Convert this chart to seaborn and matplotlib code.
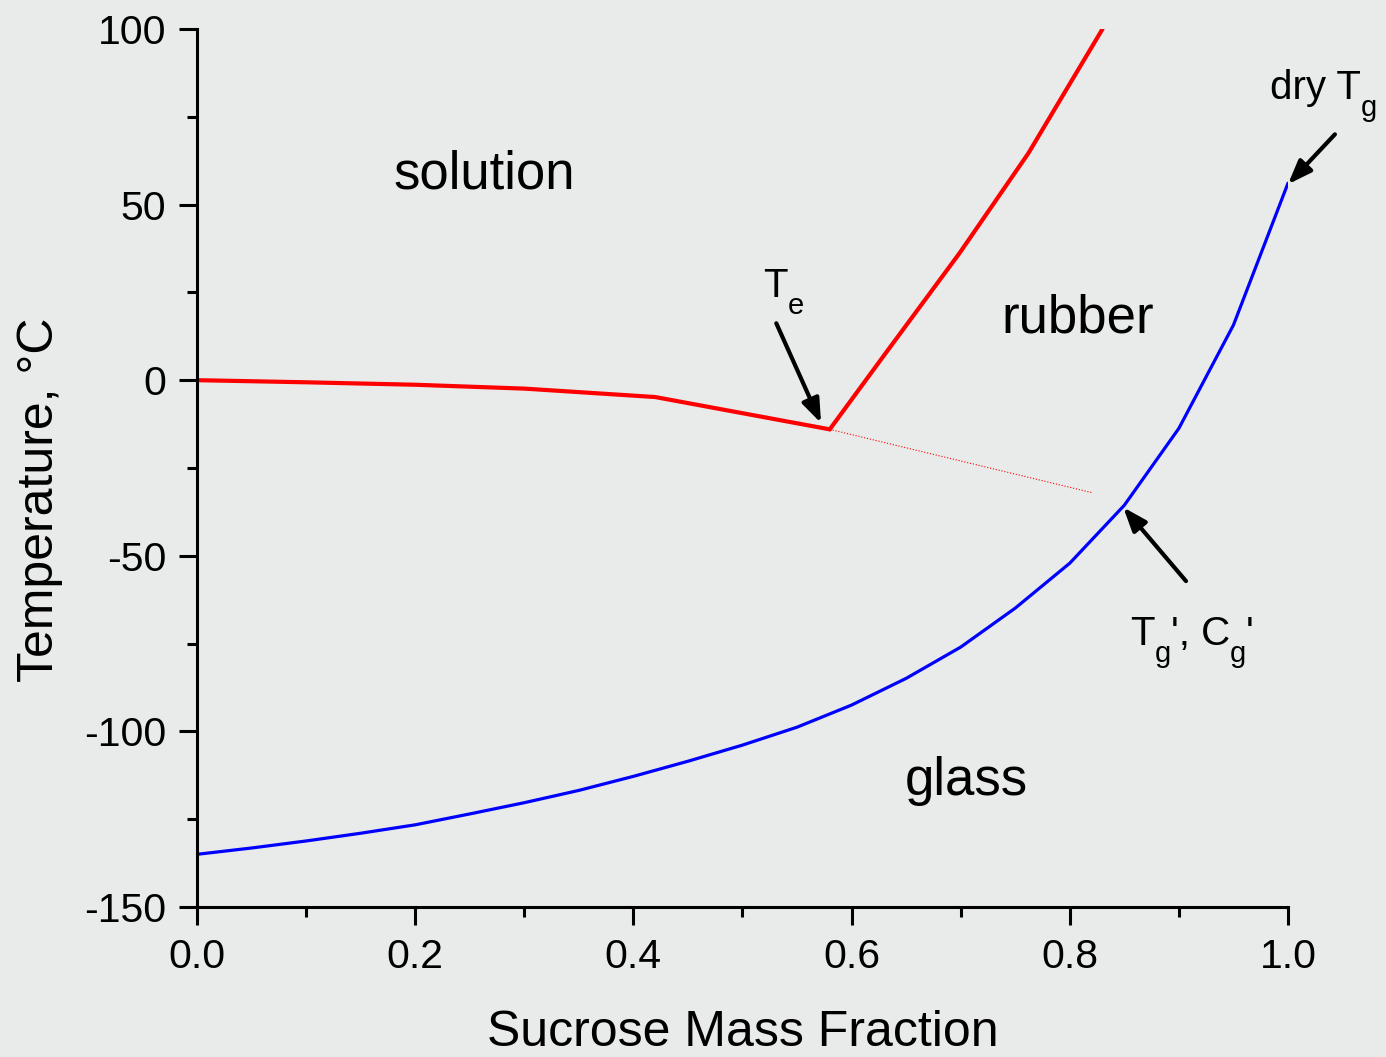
import matplotlib
matplotlib.use('Agg')
import matplotlib.pyplot as plt
from matplotlib.ticker import MultipleLocator, AutoMinorLocator
from matplotlib.transforms import offset_copy
import seaborn as sns

# Ice melting curve (liquidus) up to the eutectic point
ice_x = [0.0, 0.1, 0.2, 0.3, 0.42, 0.58]
ice_t = [0.0, -0.6, -1.3, -2.4, -4.8, -14.0]

# Metastable extension of the ice curve (thin dotted)
ext_x = [0.58, 0.82]
ext_t = [-14.0, -32.0]

# Sucrose solubility curve
sol_x = [0.58, 0.631, 0.699, 0.762, 0.83]
sol_t = [-14.0, 7.6, 36.2, 64.6, 100.0]

# Glass transition curve
tg_x = [0.0, 0.05, 0.1, 0.15, 0.2, 0.25, 0.3, 0.35, 0.4, 0.45, 0.5,
        0.55, 0.6, 0.65, 0.7, 0.75, 0.8, 0.85, 0.9, 0.95, 1.0]
tg_t = [-135.0, -133.2, -131.2, -129.0, -126.6, -123.5, -120.3, -116.8,
        -112.8, -108.5, -103.9, -98.8, -92.5, -84.9, -76.0, -64.9, -52.1,
        -35.6, -13.7, 15.7, 56.1]

xtick_labels = ['0.0', '0.2', '0.4', '0.6', '0.8', '1.0']

bg = '#e9eaea'
sns.set_theme(style='ticks')
plt.rcParams['font.family'] = ['Liberation Sans', 'DejaVu Sans']
plt.rcParams['axes.unicode_minus'] = False
plt.rcParams['text.color'] = 'black'
plt.rcParams['axes.labelcolor'] = 'black'

fig = plt.figure(figsize=(13.86, 10.57), dpi=100, facecolor=bg)
ax = fig.add_axes([0.1421, 0.1419, 0.9293 - 0.1421, 0.9726 - 0.1419])
ax.set_facecolor(bg)

sns.lineplot(x=ice_x, y=ice_t, color='red', linewidth=3.0, ax=ax)
sns.lineplot(x=ext_x, y=ext_t, color='red', linewidth=0.8, linestyle=':', ax=ax)
sns.lineplot(x=sol_x, y=sol_t, color='red', linewidth=3.0, ax=ax)
sns.lineplot(x=tg_x, y=tg_t, color='blue', linewidth=2.3, ax=ax)

ax.set_xlim(0, 1.0)
ax.set_ylim(-150, 100)
ax.yaxis.set_major_locator(MultipleLocator(50))
ax.yaxis.set_minor_locator(AutoMinorLocator(2))
ax.set_xticks([0, 0.2, 0.4, 0.6, 0.8, 1.0])
ax.set_xticklabels(xtick_labels)
ax.xaxis.set_minor_locator(MultipleLocator(0.1))

for s in ['top', 'right']:
    ax.spines[s].set_visible(False)
for s in ['left', 'bottom']:
    ax.spines[s].set_linewidth(2.2)
    ax.spines[s].set_color('black')

ax.tick_params(which='major', direction='out', length=13, width=2.2,
               labelsize=29.5, pad=9, colors='black')
ax.tick_params(which='minor', direction='out', length=7.5, width=2.2, colors='black')

ax.set_xlabel('Sucrose Mass Fraction', fontsize=36, labelpad=25)
ax.set_ylabel('Temperature, °C', fontsize=36)
ax.yaxis.set_label_coords(-0.123, 0.4636)

# region labels
ax.text(0.18, 54.7, 'solution', fontsize=38, ha='left', va='baseline')
ax.text(0.737, 13.7, 'rubber', fontsize=38, ha='left', va='baseline')
ax.text(0.649, -118.2, 'glass', fontsize=38, ha='left', va='baseline')

renderer = fig.canvas.get_renderer()


def sub_label(x, y, pieces):
    # pieces: (text, is_subscript), placed one after another
    dx = 0.0
    for s, sub in pieces:
        tr = offset_copy(ax.transData, fig=fig, x=dx, y=-12 if sub else 0,
                         units='points')
        t = ax.text(x, y, s, fontsize=21 if sub else 29, transform=tr,
                    ha='left', va='baseline', clip_on=False)
        dx += t.get_window_extent(renderer).width * 72 / fig.dpi


# point labels with arrows
arrow = dict(arrowstyle='-|>,head_length=1.2,head_width=0.45', color='black',
             lw=3, shrinkA=0, shrinkB=0)
ax.annotate('', xy=(0.572, -12.2), xytext=(0.531, 16.2), arrowprops=arrow)
sub_label(0.519, 23.6, [('T', False), ('e', True)])

ax.annotate('', xy=(1.0, 55.8), xytext=(1.043, 70.0), arrowprops=arrow,
            annotation_clip=False)
sub_label(0.9835, 80.0, [('dry T', False), ('g', True)])

ax.annotate('', xy=(0.849, -36.2), xytext=(0.9065, -57.2), arrowprops=arrow)
sub_label(0.855, -75.5, [('T', False), ('g', True), ("', C", False),
                         ('g', True), ("'", False)])

fig.savefig('out.png', dpi=100, facecolor=bg)
